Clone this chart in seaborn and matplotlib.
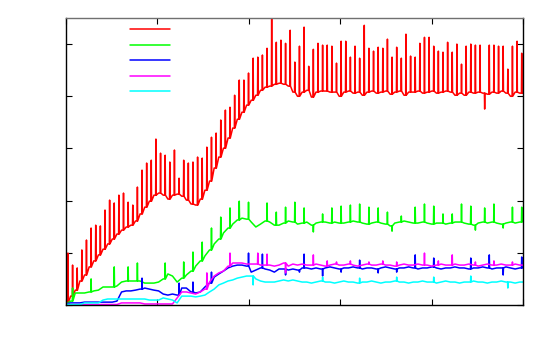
import matplotlib
matplotlib.use("Agg")
import matplotlib.pyplot as plt
import numpy as np
import pandas as pd
import seaborn as sns

# one base value per sample period, spikes keyed by period index
red_base = [0.8, 3.4, 5.7, 9.2, 11.5, 14.6, 16.9, 19.2, 21.4, 23.4,
            25.3, 27.2, 28.7, 29.9, 30.6, 32.2, 34.9, 37.5, 39.8, 42.1,
            42.9, 42.1, 40.6, 42.1, 42.5, 41.7, 40.2, 38.7, 38.3, 40.6,
            44.0, 47.5, 52.5, 56.7, 60.1, 64.0, 67.8, 71.2, 73.9, 76.6,
            78.5, 80.4, 82.3, 83.5, 83.9, 84.6, 85.0, 84.6, 83.9, 81.6,
            80.0, 81.6, 82.3, 79.7, 81.6, 82.0, 82.0, 81.6, 81.6, 80.0,
            81.6, 82.0, 81.2, 81.6, 80.4, 81.6, 82.0, 81.2, 81.6, 82.0,
            80.8, 81.6, 82.0, 80.4, 81.6, 81.6, 82.0, 81.2, 81.6, 82.0,
            81.2, 81.6, 82.0, 81.6, 80.4, 81.2, 80.4, 81.6, 81.2, 81.6,
            81.2, 80.8, 81.6, 81.2, 82.0, 81.2, 80.0, 81.6, 81.2, 81.2]
red_peaks = [19.9, 15.3, 14.2, 21.1, 24.9, 29.5, 30.6, 30.3, 36.4, 40.2,
             39.1, 42.1, 42.9, 39.4, 38.3, 45.2, 51.7, 54.4, 55.5, 63.6,
             58.2, 57.4, 54.8, 59.4, 48.6, 55.5, 54.4, 54.8, 56.7, 56.3,
             60.5, 64.3, 65.9, 70.9, 74.7, 75.8, 80.4, 86.2, 86.2, 88.9,
             94.6, 95.0, 95.8, 98.4, 112.0, 100.7, 101.5, 100.3, 105.3, 93.1,
             99.2, 106.5, 91.5, 98.0, 100.3, 99.6, 99.6, 99.2, 92.7, 101.1,
             101.1, 95.0, 99.2, 94.6, 107.2, 98.4, 97.3, 98.8, 98.4, 101.9,
             95.0, 98.8, 94.6, 103.8, 95.4, 95.0, 100.3, 102.6, 102.6, 99.2,
             97.3, 96.9, 100.7, 96.9, 100.0, 92.3, 99.2, 100.0, 99.6, 99.6,
             75.1, 99.6, 99.6, 99.2, 99.2, 90.4, 99.2, 101.1, 96.5]

green_base = [0.4, 1.5, 4.6, 4.6, 4.6, 5.0, 5.4, 5.7, 6.9, 6.9,
              6.9, 7.3, 8.8, 9.2, 9.2, 9.2, 9.2, 8.4, 8.4, 8.4,
              8.8, 10.0, 11.9, 11.1, 8.8, 10.3, 11.5, 13.0, 14.9, 16.9,
              18.8, 21.1, 23.4, 25.3, 27.6, 29.5, 31.0, 32.6, 33.3, 32.9,
              31.8, 29.9, 31.0, 32.2, 31.8, 30.6, 30.6, 31.4, 32.2, 31.8,
              31.0, 31.4, 31.8, 30.6, 31.4, 31.8, 31.8, 31.4, 31.8, 31.4,
              31.4, 31.8, 32.2, 31.8, 31.4, 31.0, 31.4, 31.8, 31.4, 31.0,
              30.3, 31.4, 31.8, 32.2, 31.8, 31.4, 31.4, 31.8, 31.4, 31.0,
              31.4, 31.4, 31.0, 31.4, 31.8, 31.8, 31.4, 31.0, 30.6, 31.4,
              31.8, 31.4, 31.8, 31.4, 31.0, 31.4, 31.8, 31.4, 31.8, 32.2]
green_peaks = {1: 6.5, 5: 10.0, 10: 14.6, 13: 14.6, 15: 16.1, 21: 16.1,
               25: 16.5, 27: 20.3, 29: 24.1, 31: 29.5, 33: 33.7, 35: 37.2,
               37: 39.8, 39: 39.4, 43: 39.1, 45: 35.6, 47: 37.5, 49: 39.4,
               51: 37.2, 53: 28.0, 55: 34.9, 57: 37.2, 59: 37.9, 61: 38.3,
               63: 38.7, 65: 37.5, 67: 37.2, 69: 35.6, 70: 28.3, 72: 34.1,
               75: 37.5, 77: 38.7, 79: 37.9, 81: 34.9, 83: 34.9, 85: 38.7,
               87: 37.9, 88: 28.7, 90: 37.2, 92: 38.7, 94: 29.5, 96: 37.5,
               98: 37.5}

blue_base = [0.4, 0.8, 0.8, 0.8, 1.1, 1.1, 1.1, 1.1, 1.1, 1.1,
             1.1, 1.5, 5.0, 5.4, 5.4, 5.7, 6.1, 6.5, 6.1, 5.7,
             5.4, 4.2, 3.8, 4.2, 3.8, 6.5, 6.5, 5.0, 4.6, 5.0,
             6.9, 8.4, 10.7, 11.9, 13.0, 14.2, 14.9, 15.3, 15.3, 14.9,
             12.6, 13.4, 14.2, 13.8, 13.4, 12.6, 13.8, 13.8, 13.4, 13.8,
             13.4, 14.2, 14.2, 13.8, 14.2, 13.8, 14.2, 14.6, 14.2, 13.8,
             14.2, 14.2, 14.6, 14.2, 13.8, 14.2, 14.2, 13.8, 14.2, 14.6,
             14.2, 13.8, 14.2, 14.2, 14.6, 14.2, 13.8, 14.2, 14.2, 14.6,
             14.2, 13.8, 14.2, 14.2, 14.6, 14.2, 14.2, 13.8, 14.2, 14.2,
             14.6, 14.2, 13.8, 14.2, 14.2, 14.6, 14.2, 13.8, 14.2, 14.2]
blue_peaks = {16: 10.3, 24: 8.4, 27: 8.8, 31: 12.6, 39: 19.9, 42: 19.5,
              47: 11.5, 50: 12.6, 51: 19.5, 55: 11.1, 59: 12.6, 63: 17.2,
              67: 12.3, 71: 12.6, 75: 19.2, 79: 18.0, 87: 18.0, 91: 19.2,
              94: 11.5, 98: 18.4}

magenta_base = [0.2, 0.2, 0.2, 0.2, 0.2, 0.2, 0.2, 0.2, 0.2, 0.2,
                0.2, 0.2, 0.8, 0.8, 0.8, 0.8, 0.8, 0.4, 0.4, 0.4,
                0.4, 0.4, 0.4, 0.4, 2.7, 5.0, 5.0, 4.6, 4.2, 5.0,
                6.1, 8.8, 11.1, 12.3, 13.0, 14.9, 16.1, 16.1, 16.1, 15.7,
                15.7, 15.7, 15.3, 15.3, 15.3, 14.9, 15.3, 16.1, 14.9, 15.7,
                15.3, 15.7, 15.3, 15.3, 15.7, 15.3, 14.9, 15.3, 15.7, 15.3,
                15.3, 15.7, 15.3, 14.9, 15.3, 15.7, 15.3, 15.3, 15.7, 15.3,
                15.3, 14.9, 15.3, 15.7, 15.3, 15.3, 15.7, 15.3, 15.3, 14.9,
                15.3, 15.7, 15.3, 15.3, 15.7, 15.3, 15.3, 15.7, 15.3, 14.9,
                15.3, 15.7, 15.3, 15.3, 15.7, 15.3, 15.3, 15.7, 15.3, 15.3]
magenta_peaks = {30: 12.3, 35: 19.9, 41: 19.9, 43: 19.5, 47: 12.3, 53: 19.2,
                 56: 16.9, 58: 16.5, 61: 16.9, 65: 16.5, 68: 16.9, 71: 16.5,
                 77: 19.9, 80: 16.9, 83: 19.2, 88: 16.5, 92: 16.9, 96: 16.5}

cyan_base = [0.2, 0.2, 0.2, 0.2, 0.8, 0.8, 0.8, 0.8, 1.9, 2.3,
             2.3, 2.3, 2.3, 2.3, 2.3, 2.3, 2.3, 2.3, 1.9, 1.9,
             1.9, 2.7, 2.3, 1.9, 0.8, 3.4, 3.4, 3.4, 3.1, 3.4,
             3.8, 5.0, 6.1, 7.7, 8.4, 9.2, 9.6, 10.3, 10.7, 11.1,
             11.1, 10.0, 9.2, 8.8, 8.8, 8.8, 9.2, 9.6, 9.2, 9.6,
             9.2, 8.8, 8.8, 8.4, 8.8, 9.2, 8.8, 8.8, 8.4, 8.8,
             9.2, 8.8, 8.8, 8.4, 8.8, 8.8, 9.2, 8.8, 8.4, 8.8,
             8.8, 9.2, 8.8, 8.8, 8.4, 8.8, 8.8, 9.2, 8.8, 8.8,
             8.4, 8.8, 9.2, 8.8, 8.8, 8.4, 8.8, 8.8, 9.2, 8.8,
             8.8, 8.4, 8.8, 8.8, 9.2, 8.8, 8.8, 8.4, 8.8, 8.8]
cyan_peaks = {40: 7.7, 55: 10.7, 63: 10.3, 71: 10.7, 79: 10.7, 87: 11.1, 95: 6.5}

series_names = ["red", "green", "blue", "magenta", "cyan"]
series_colors = ["#ff0000", "#00ff00", "#0000ff", "#ff00ff", "#00ffff"]


def build_trace(base, peaks):
    # each peak is a sharp excursion from the base level inside its period
    xs, ys = [], []
    for i, b in enumerate(base):
        xs.append(i)
        ys.append(b)
        if i in peaks:
            xs += [i + 0.36, i + 0.42, i + 0.48]
            ys += [b, peaks[i], b]
    return xs, ys


frames = []
all_data = [(red_base, dict(enumerate(red_peaks))), (green_base, green_peaks),
            (blue_base, blue_peaks), (magenta_base, magenta_peaks),
            (cyan_base, cyan_peaks)]
for name, (base, peaks) in zip(series_names, all_data):
    xs, ys = build_trace(base, peaks)
    frames.append(pd.DataFrame({"t": xs, "value": ys, "series": name}))
df = pd.concat(frames, ignore_index=True)

sns.set_style("white")
fig = plt.figure(figsize=(5.5, 3.54), dpi=100)
ax = fig.add_axes([66 / 550, 49 / 354, 457 / 550, 287 / 354])

sns.lineplot(data=df, x="t", y="value", hue="series", hue_order=series_names,
             palette=series_colors, sort=False, estimator=None, legend=False,
             linewidth=1.1, ax=ax)

x_max = 98.7
ax.set_xlim(0, x_max)
ax.set_ylim(0, 110)
ax.set_xticks(np.linspace(0, x_max, 6))
ax.set_yticks([0, 20, 40, 60, 80, 100])
ax.set_xlabel("")
ax.set_ylabel("")
ax.tick_params(direction="in", top=True, right=True, bottom=True, left=True,
               labelbottom=False, labelleft=False, length=4, width=0.8,
               color="black")
for side in ax.spines.values():
    side.set_color("black")
    side.set_linewidth(1.0)
ax.spines["top"].set_color("#707070")

ax.legend(ax.lines[:5], [""] * 5, loc="upper left",
          bbox_to_anchor=(0.14, 0.975), frameon=False, fontsize=8,
          handlelength=3.6, labelspacing=0.49, borderpad=0, borderaxespad=0,
          handletextpad=0)

fig.savefig("out.png", dpi=100)
